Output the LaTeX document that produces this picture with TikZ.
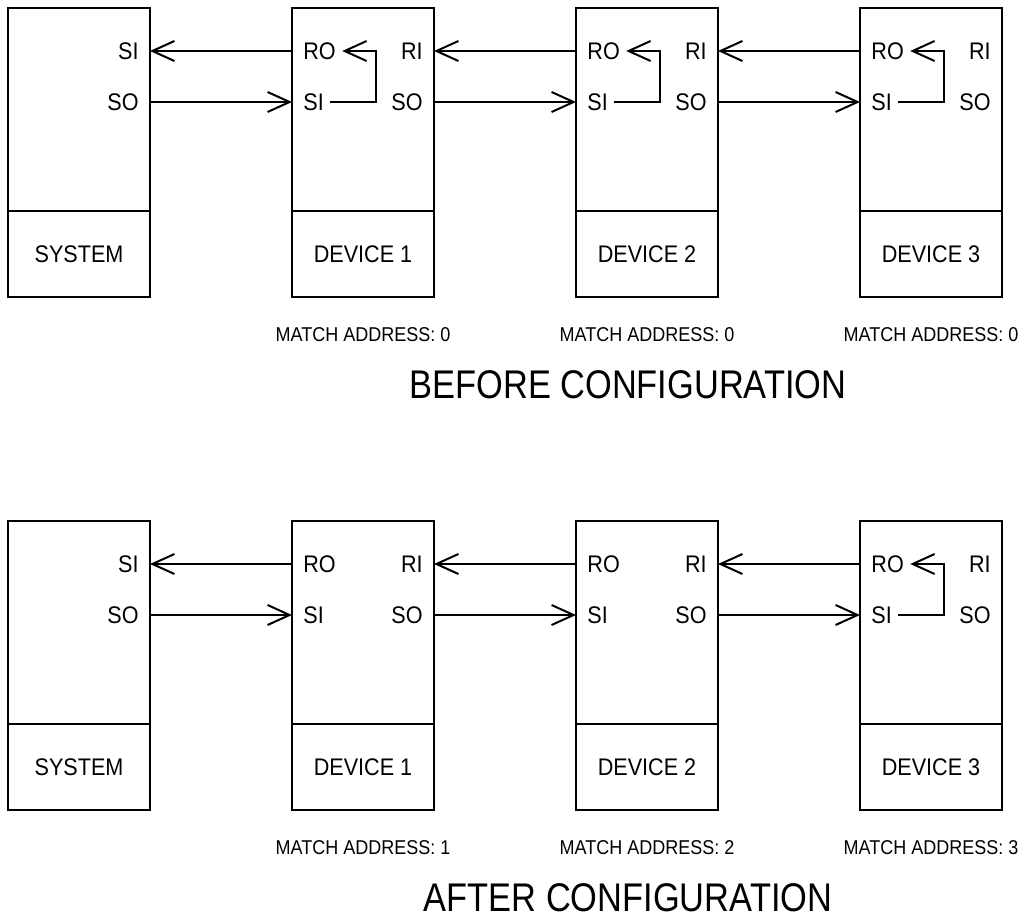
\documentclass[tikz,border=0pt]{standalone}
\usepackage{fontspec}
\setmainfont[FakeStretch=0.9]{Liberation Sans}
\newfontfamily\titlefont[FakeStretch=0.86]{Liberation Sans}
\usepackage{tikz}
\usetikzlibrary{arrows.meta,positioning}

\begin{document}
\begin{tikzpicture}[node distance=0pt and 71pt, every node/.style={font=\fontsize{12}{14}\selectfont}]
\tikzset{unit/.style={draw, line width=1pt, outer sep=0pt, inner sep=0pt, minimum width=71pt, minimum height=101.5pt}}
\tikzset{namebox/.style={draw, line width=1pt, outer sep=0pt, inner sep=0pt, minimum width=71pt, minimum height=43pt}}
\tikzset{pinlab/.style={inner sep=3pt}}
\tikzset{addr/.style={font=\fontsize{10}{12}\selectfont, inner sep=3pt}}
\tikzset{heading/.style={font=\titlefont\fontsize{20}{24}\selectfont, inner sep=1pt}}
\tikzset{arrow/.style={-{Straight Barb[length=11pt,width=10pt]}, line width=1pt}}
\useasboundingbox (0,0) rectangle (514pt,-460pt);

% before configuration
\node[unit, anchor=north west] (sysA) at (4pt,-4pt) {};
\node[unit, right=of sysA] (devA1) {};
\node[unit, right=of devA1] (devA2) {};
\node[unit, right=of devA2] (devA3) {};
\node[namebox, below=of sysA] (nA0) {SYSTEM};
\node[namebox, below=of devA1] (nA1) {DEVICE 1};
\node[namebox, below=of devA2] (nA2) {DEVICE 2};
\node[namebox, below=of devA3] (nA3) {DEVICE 3};

\node[pinlab, anchor=east, xshift=-2.5pt, yshift=-21.5pt] (siA0) at (sysA.north east) {SI};
\node[pinlab, anchor=east, xshift=-2.5pt, yshift=-47pt] (soA0) at (sysA.north east) {SO};
\node[pinlab, anchor=west, xshift=2.5pt, yshift=-21.5pt] (roA1) at (devA1.north west) {RO};
\node[pinlab, anchor=west, xshift=2.5pt, yshift=-47pt] (siA1) at (devA1.north west) {SI};
\node[pinlab, anchor=east, xshift=-2.5pt, yshift=-21.5pt] (riA1) at (devA1.north east) {RI};
\node[pinlab, anchor=east, xshift=-2.5pt, yshift=-47pt] (soA1) at (devA1.north east) {SO};
\node[pinlab, anchor=west, xshift=2.5pt, yshift=-21.5pt] (roA2) at (devA2.north west) {RO};
\node[pinlab, anchor=west, xshift=2.5pt, yshift=-47pt] (siA2) at (devA2.north west) {SI};
\node[pinlab, anchor=east, xshift=-2.5pt, yshift=-21.5pt] (riA2) at (devA2.north east) {RI};
\node[pinlab, anchor=east, xshift=-2.5pt, yshift=-47pt] (soA2) at (devA2.north east) {SO};
\node[pinlab, anchor=west, xshift=2.5pt, yshift=-21.5pt] (roA3) at (devA3.north west) {RO};
\node[pinlab, anchor=west, xshift=2.5pt, yshift=-47pt] (siA3) at (devA3.north west) {SI};
\node[pinlab, anchor=east, xshift=-2.5pt, yshift=-21.5pt] (riA3) at (devA3.north east) {RI};
\node[pinlab, anchor=east, xshift=-2.5pt, yshift=-47pt] (soA3) at (devA3.north east) {SO};

\node[addr, below=12pt of nA1] (mA1) {MATCH ADDRESS: 0};
\node[addr, below=12pt of nA2] (mA2) {MATCH ADDRESS: 0};
\node[addr, below=12pt of nA3] (mA3) {MATCH ADDRESS: 0};
\node[heading, below=10pt of mA2, xshift=-9.5pt] (hA) {BEFORE CONFIGURATION};

\draw[arrow] (devA1.west |- roA1) -- (sysA.east |- roA1);
\draw[arrow] (sysA.east |- soA0) -- (devA1.west |- soA0);
\draw[arrow] (devA2.west |- roA2) -- (devA1.east |- roA2);
\draw[arrow] (devA1.east |- soA1) -- (devA2.west |- soA1);
\draw[arrow] (devA3.west |- roA3) -- (devA2.east |- roA3);
\draw[arrow] (devA2.east |- soA2) -- (devA3.west |- soA2);
\draw[arrow] (siA1.east) -- ++(22.8pt,0) |- (roA1.east);
\draw[arrow] (siA2.east) -- ++(22.8pt,0) |- (roA2.east);
\draw[arrow] (siA3.east) -- ++(22.8pt,0) |- (roA3.east);

% after configuration
\node[unit, anchor=north west] (sysB) at (4pt,-260.5pt) {};
\node[unit, right=of sysB] (devB1) {};
\node[unit, right=of devB1] (devB2) {};
\node[unit, right=of devB2] (devB3) {};
\node[namebox, below=of sysB] (nB0) {SYSTEM};
\node[namebox, below=of devB1] (nB1) {DEVICE 1};
\node[namebox, below=of devB2] (nB2) {DEVICE 2};
\node[namebox, below=of devB3] (nB3) {DEVICE 3};

\node[pinlab, anchor=east, xshift=-2.5pt, yshift=-21.5pt] (siB0) at (sysB.north east) {SI};
\node[pinlab, anchor=east, xshift=-2.5pt, yshift=-47pt] (soB0) at (sysB.north east) {SO};
\node[pinlab, anchor=west, xshift=2.5pt, yshift=-21.5pt] (roB1) at (devB1.north west) {RO};
\node[pinlab, anchor=west, xshift=2.5pt, yshift=-47pt] (siB1) at (devB1.north west) {SI};
\node[pinlab, anchor=east, xshift=-2.5pt, yshift=-21.5pt] (riB1) at (devB1.north east) {RI};
\node[pinlab, anchor=east, xshift=-2.5pt, yshift=-47pt] (soB1) at (devB1.north east) {SO};
\node[pinlab, anchor=west, xshift=2.5pt, yshift=-21.5pt] (roB2) at (devB2.north west) {RO};
\node[pinlab, anchor=west, xshift=2.5pt, yshift=-47pt] (siB2) at (devB2.north west) {SI};
\node[pinlab, anchor=east, xshift=-2.5pt, yshift=-21.5pt] (riB2) at (devB2.north east) {RI};
\node[pinlab, anchor=east, xshift=-2.5pt, yshift=-47pt] (soB2) at (devB2.north east) {SO};
\node[pinlab, anchor=west, xshift=2.5pt, yshift=-21.5pt] (roB3) at (devB3.north west) {RO};
\node[pinlab, anchor=west, xshift=2.5pt, yshift=-47pt] (siB3) at (devB3.north west) {SI};
\node[pinlab, anchor=east, xshift=-2.5pt, yshift=-21.5pt] (riB3) at (devB3.north east) {RI};
\node[pinlab, anchor=east, xshift=-2.5pt, yshift=-47pt] (soB3) at (devB3.north east) {SO};

\node[addr, below=12pt of nB1] (mB1) {MATCH ADDRESS: 1};
\node[addr, below=12pt of nB2] (mB2) {MATCH ADDRESS: 2};
\node[addr, below=12pt of nB3] (mB3) {MATCH ADDRESS: 3};
\node[heading, below=10pt of mB2, xshift=-9.5pt] (hB) {AFTER CONFIGURATION};

\draw[arrow] (devB1.west |- roB1) -- (sysB.east |- roB1);
\draw[arrow] (sysB.east |- soB0) -- (devB1.west |- soB0);
\draw[arrow] (devB2.west |- roB2) -- (devB1.east |- roB2);
\draw[arrow] (devB1.east |- soB1) -- (devB2.west |- soB1);
\draw[arrow] (devB3.west |- roB3) -- (devB2.east |- roB3);
\draw[arrow] (devB2.east |- soB2) -- (devB3.west |- soB2);
\draw[arrow] (siB3.east) -- ++(22.8pt,0) |- (roB3.east);
\end{tikzpicture}
\end{document}
